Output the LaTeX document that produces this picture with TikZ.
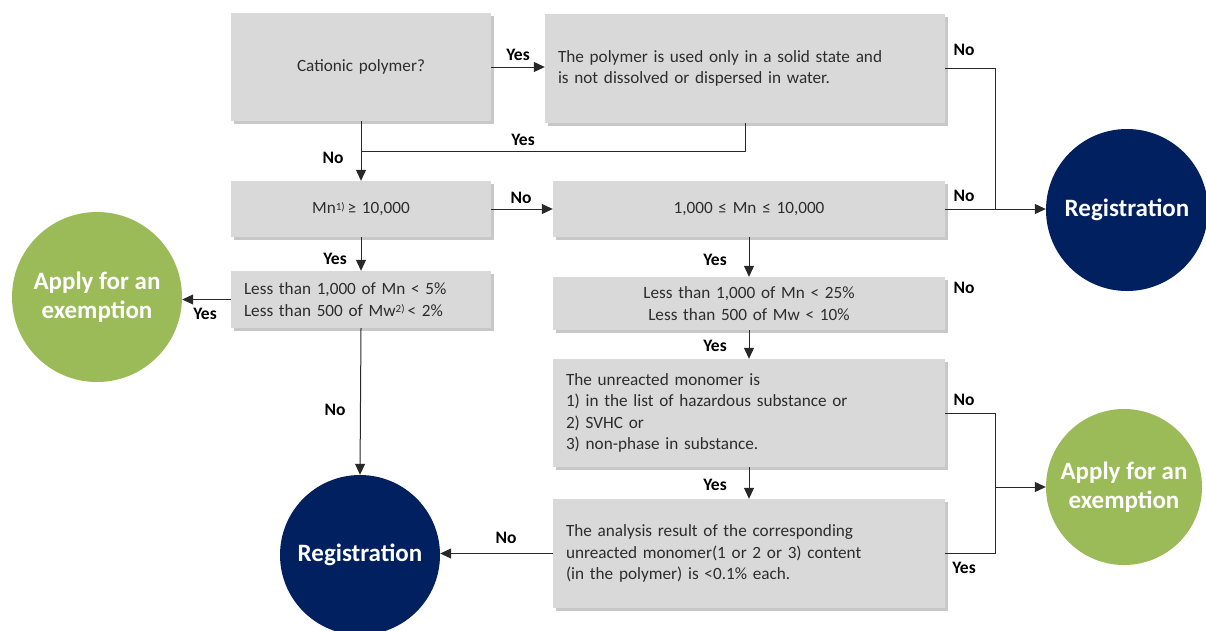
\documentclass[tikz,border=0pt]{standalone}
\usepackage{fontspec}
\setmainfont{Carlito}
\usetikzlibrary{shadows,arrows.meta,calc}
\definecolor{boxgray}{RGB}{217,217,217}
\definecolor{navy}{RGB}{0,32,96}
\definecolor{leaf}{RGB}{155,187,89}
\definecolor{linegray}{RGB}{40,40,40}
\definecolor{txtgray}{RGB}{45,45,45}
\newcommand{\supr}[1]{\raisebox{0.45ex}{\fontsize{11}{11}\selectfont #1}}
\begin{document}
\begin{tikzpicture}[x=1pt,y=-1pt,
  box/.style={rectangle, fill=boxgray, draw=none,
    drop shadow={shadow xshift=3pt,shadow yshift=-3pt,opacity=0.3,fill=black!70},
    inner xsep=13pt, inner ysep=0pt, font=\fontsize{17.2}{21.5}\selectfont, text=txtgray},
  navyc/.style={circle, fill=navy, draw=none, inner sep=0pt, text=white, align=center,
    font=\bfseries\fontsize{25}{29}\selectfont},
  leafc/.style={circle, fill=leaf, draw=none, inner sep=0pt, text=white, align=center,
    font=\bfseries\fontsize{25}{29}\selectfont},
  lab/.style={font=\bfseries\fontsize{17.5}{20}\selectfont, text=black, inner sep=0pt},
  wire/.style={draw=linegray, line width=1pt},
  conn/.style={wire, -{Triangle[length=11pt,width=10pt]}}
]
\useasboundingbox (0,0) rectangle (1206,630);
\fill[white] (0,0) rectangle (1206,630);

% boxes
\node[box, text width=234pt, align=center, minimum height=108pt] (cat) at (361,67) {Cationic polymer?};
\node[box, text width=374pt, align=left, minimum height=109pt] (solid) at (745,68.5)
  {The polymer is used only in a solid state and\\is not dissolved or dispersed in water.};
\node[box, text width=234pt, align=center, minimum height=56pt] (mn) at (361,209)
  {Mn\supr{1)}\,≥ 10,000};
\node[box, text width=366pt, align=center, minimum height=56pt] (rng) at (749,209)
  {1,000 ≤ Mn ≤ 10,000};
\node[box, text width=234pt, align=left, minimum height=57pt] (lt1) at (361,299.5)
  {Less than 1,000 of Mn < 5\%\\Less than 500 of Mw\supr{2)}\,< 2\%};
\node[box, text width=366pt, align=center, minimum height=53pt] (lt2) at (749,303.5)
  {Less than 1,000 of Mn < 25\%\\Less than 500 of Mw < 10\%};
\node[box, text width=366pt, align=left, minimum height=108pt] (mono) at (749,413)
  {The unreacted monomer is\\1) in the list of hazardous substance or\\2) SVHC or\\3) non-phase in substance.};
\node[box, text width=366pt, align=left, minimum height=109pt] (anal) at (749,553.5)
  {The analysis result of the corresponding\\unreacted monomer(1 or 2 or 3) content\\(in the polymer) is <0.1\% each.};

% circles
\node[navyc, minimum size=162pt] (reg1) at (1127,210) {Registration};
\node[leafc, minimum size=170pt] (app1) at (97,297) {Apply for an\\exemption};
\node[navyc, minimum size=160pt] (reg2) at (360,555) {Registration};
\node[leafc, minimum size=156pt] (app2) at (1124,487) {Apply for an\\exemption};

% junctions
\coordinate (j1) at (361,151);
\coordinate (jr) at (995,209);
\coordinate (jb) at (995,487);

% connectors
\draw[conn] (cat.east |- 0,67) -- (solid.west |- 0,67);
\draw[conn] (cat.south) -- (mn.north);
\draw[wire] (solid.south) |- (j1);
\draw[conn] (mn.east) -- (rng.west);
\draw[wire] (solid.east) -| (jr);
\draw[conn] (rng.east) -- (rng.east -| reg1.west);
\draw[conn] (mn.south) -- (lt1.north);
\draw[conn] (lt1.west) -- (lt1.west -| app1.east);
\draw[conn] (lt1.south) -- (reg2.north);
\draw[conn] (rng.south) -- (lt2.north);
\draw[conn] (lt2.south) -- (mono.north);
\draw[conn] (mono.south) -- (anal.north);
\draw[conn] (anal.west) -- (anal.west -| reg2.east);
\draw[wire] (mono.east) -| (jb);
\draw[wire] (anal.east) -| (jb);
\draw[conn] (jb) -- (jb -| app2.west);

% labels
\node[lab] (y1) at (518,55) {Yes};
\node[lab] (y2) at (523,140) {Yes};
\node[lab] (n1) at (333,158) {No};
\node[lab] (n2) at (521,198) {No};
\node[lab] (n3) at (964,50) {No};
\node[lab] (n4) at (964,196) {No};
\node[lab] (y3) at (335,259) {Yes};
\node[lab] (y4) at (205,314) {Yes};
\node[lab] (n5) at (335,410) {No};
\node[lab] (y5) at (715,260) {Yes};
\node[lab] (n6) at (964,288) {No};
\node[lab] (y6) at (715,346) {Yes};
\node[lab] (n7) at (964,400) {No};
\node[lab] (y7) at (715,485) {Yes};
\node[lab] (n8) at (506,538) {No};
\node[lab] (y8) at (964,568) {Yes};
\end{tikzpicture}
\end{document}
